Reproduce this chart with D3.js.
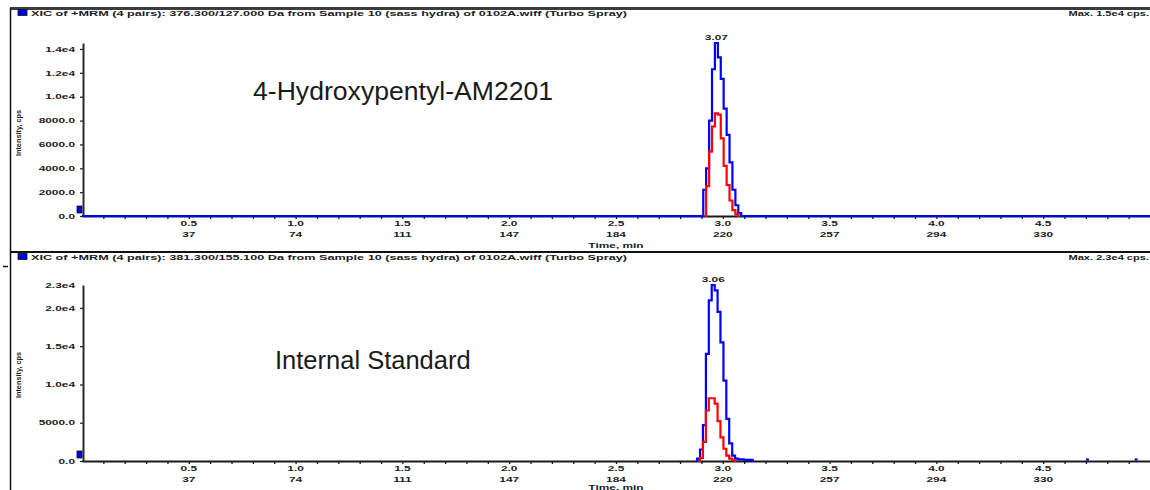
<!DOCTYPE html>
<html>
<head>
<meta charset="utf-8">
<script src="https://cdn.jsdelivr.net/npm/d3@7"></script>
<style>
body{margin:0;background:#fff}
svg{display:block}
.sm{font-family:"Liberation Sans",Arial,sans-serif;font-size:7px;font-weight:bold;fill:#1c1c1c}
.big{font-family:"Liberation Sans",Arial,sans-serif;fill:#1a1a1a}
</style>
</head>
<body>
<div id="chart"></div>
<script>
// xic panels

w=1150;
h=490;
sx=1.7;

// data

xDomain=[0,5.0];
xTicks=[0.5,1.0,1.5,2.0,2.5,3.0,3.5,4.0,4.5];
scanTicks=[37,74,111,147,184,220,257,294,330];

topTitle="XIC of +MRM (4 pairs): 376.300/127.000 Da from Sample 10 (sass hydra) of 0102A.wiff (Turbo Spray)";
topMax="Max. 1.5e4 cps.";
topName="4-Hydroxypentyl-AM2201";
topApexLabel="3.07";
topYMax=14500;
topYTicks=[0,2000,4000,6000,8000,10000,12000,14000];
topBlue=[[0,0],[2.902,0],[2.915,2200],[2.929,4000],[2.943,8000],[2.956,12300],[2.970,14500],[2.984,13300],[2.997,11500],[3.011,9000],[3.025,6800],[3.038,4500],[3.052,2200],[3.066,900],[3.079,250],[3.093,0],[5.0,0]];
topRed=[[2.915,0],[2.929,2500],[2.943,5400],[2.956,7500],[2.970,8600],[2.984,8500],[2.997,6500],[3.011,4200],[3.025,2600],[3.038,1300],[3.052,500],[3.066,150],[3.079,0]];

botTitle="XIC of +MRM (4 pairs): 381.300/155.100 Da from Sample 10 (sass hydra) of 0102A.wiff (Turbo Spray)";
botMax="Max. 2.3e4 cps.";
botName="Internal Standard";
botApexLabel="3.06";
botYMax=23000;
botYTicks=[0,5000,10000,15000,20000];
botBlue=[[2.873,0],[2.887,300],[2.900,1500],[2.914,4700],[2.928,14000],[2.941,21000],[2.955,23000],[2.969,22300],[2.982,19500],[2.996,15500],[3.010,10500],[3.023,5500],[3.037,2300],[3.051,700],[3.064,300],[3.078,200],[3.092,200],[3.105,150],[3.119,150],[3.133,150],[3.146,0]];
botRed=[[2.887,0],[2.900,400],[2.914,2500],[2.928,6600],[2.941,8200],[2.955,8200],[2.969,7500],[2.982,5200],[2.996,3100],[3.010,1600],[3.023,700],[3.037,300],[3.051,100],[3.064,0]];
botBlips=[[[4.700,200],[4.714,200]],[[4.928,200],[4.942,200]]];

// layout

panels=[
	{title:topTitle,max:topMax,name:topName,apex:topApexLabel,yMax:topYMax,yTicks:topYTicks,topLabel:false,
	 blue:[topBlue],red:topRed,base:216,top:43,head:13,yTitle:133,nameX:253,nameY:100,nameSize:26.6,timeY:32},
	{title:botTitle,max:botMax,name:botName,apex:botApexLabel,yMax:botYMax,yTicks:botYTicks,topLabel:true,
	 blue:[botBlue].concat(botBlips),red:botRed,base:461,top:285,head:257,yTitle:375,nameX:275,nameY:369,nameSize:25.5,timeY:28.5}
];

var chart=d3.select("#chart");
var svg=chart.append("svg").attr("width",w).attr("height",h);
var x=d3.scaleLinear().domain(xDomain).range([82,1150]);
var minor=d3.range(1,50).map(function(i) {return i/10;});

function yFmt(d) {
	if(d===0) return "0.0";
	if(d<1e4) return d.toFixed(1);
	return (d/1e4).toFixed(1)+"e4";
}

// frame
svg.append("line").attr("x1",10).attr("x2",w).attr("y1",8.5).attr("y2",8.5).style("stroke","#3c3c3c").style("stroke-width",3);
svg.append("line").attr("x1",10.5).attr("x2",10.5).attr("y1",8).attr("y2",h).style("stroke","#111").style("stroke-width",1.5);
svg.append("line").attr("x1",10).attr("x2",w).attr("y1",252).attr("y2",252).style("stroke","#111").style("stroke-width",2);
svg.append("line").attr("x1",3).attr("x2",8).attr("y1",266.5).attr("y2",266.5).style("stroke","#111").style("stroke-width",1.5);

function drawPanel(p) {
	var g=svg.append("g");
	var y=d3.scaleLinear().domain([0,p.yMax]).range([p.base,p.top]);

	// header
	g.append("rect").attr("x",18).attr("y",p.head-3.5).attr("width",9).attr("height",6)
		.style("fill","#0000e6").style("stroke","#111").style("stroke-width",0.8);
	g.append("text").attr("class","sm").attr("x",31).attr("y",p.head+2.5)
		.attr("textLength",596).attr("lengthAdjust","spacingAndGlyphs").text(p.title);
	g.append("text").attr("class","sm").attr("text-anchor","end")
		.attr("transform","translate(1149,"+(p.head+2.5)+") scale(1.58,1)").text(p.max);

	// y title
	g.append("text").attr("class","sm").style("font-size","7.3px")
		.attr("transform","translate(21,"+p.yTitle+") rotate(-90)").attr("text-anchor","middle").text("Intensity, cps");

	// x axis
	var gx=g.append("g").attr("transform","translate(0,"+p.base+")")
		.call(d3.axisBottom(x).tickValues(minor).tickSize(3).tickSizeOuter(0).tickFormat(""));
	gx.select(".domain").style("stroke","#1a1a1a").style("stroke-width",2);
	gx.selectAll(".tick line").style("stroke","#1a1a1a").style("stroke-width",1.3);

	g.selectAll(".xl").data(xTicks).enter().append("text").attr("class","sm").attr("text-anchor","middle")
		.attr("transform",function(d) {return "translate("+x(d)+","+(p.base+10)+") scale("+sx+",1)";})
		.text(function(d) {return d.toFixed(1);});
	g.selectAll(".xs").data(scanTicks).enter().append("text").attr("class","sm").attr("text-anchor","middle")
		.attr("transform",function(d,i) {return "translate("+x(xTicks[i])+","+(p.base+20.5)+") scale("+sx+",1)";})
		.text(function(d) {return d;});
	g.append("text").attr("class","sm").attr("text-anchor","middle")
		.attr("transform","translate("+x((xDomain[0]+xDomain[1])/2)+","+(p.base+p.timeY)+") scale("+sx+",1)").text("Time, min");

	// y axis
	var gy=g.append("g").attr("transform","translate(83,0)")
		.call(d3.axisLeft(y).tickValues(p.yTicks).tickSize(3).tickSizeOuter(0).tickFormat(yFmt));
	gy.select(".domain").style("stroke","#2a2a2a").style("stroke-width",2);
	gy.selectAll(".tick line").style("stroke","#2a2a2a").style("stroke-width",1.3);
	gy.selectAll(".tick text").attr("class","sm").attr("x",-8/sx).attr("transform","scale("+sx+",1)");
	if(p.topLabel) {
		g.append("text").attr("class","sm").attr("text-anchor","end")
			.attr("transform","translate(75,"+(y(p.yMax)+2.5)+") scale("+sx+",1)").text(yFmt(p.yMax));
	}

	// origin marker
	g.append("rect").attr("x",77).attr("y",p.base-10).attr("width",5).attr("height",7)
		.style("fill","#0000e6").style("stroke","#111").style("stroke-width",0.8);

	// traces
	var line=d3.line().x(function(d) {return x(d[0]);}).y(function(d) {return y(d[1]);}).curve(d3.curveStep);
	g.selectAll(".blue").data(p.blue).enter().append("path").attr("d",line)
		.style("fill","none").style("stroke","#0000ff").style("stroke-width",2.2);
	g.append("path").attr("d",line(p.red)).style("fill","none").style("stroke","#ff0000").style("stroke-width",2.2);

	// apex label
	var apex=d3.greatest(p.blue[0],function(d) {return d[1];});
	g.append("text").attr("class","sm").attr("text-anchor","middle")
		.attr("transform","translate("+x(apex[0])+","+(y(apex[1])-3.5)+") scale("+sx+",1)").text(p.apex);

	// compound name
	g.append("text").attr("class","big").style("font-size",p.nameSize+"px").attr("x",p.nameX).attr("y",p.nameY).text(p.name);
}

panels.forEach(drawPanel);
</script>
</body>
</html>
